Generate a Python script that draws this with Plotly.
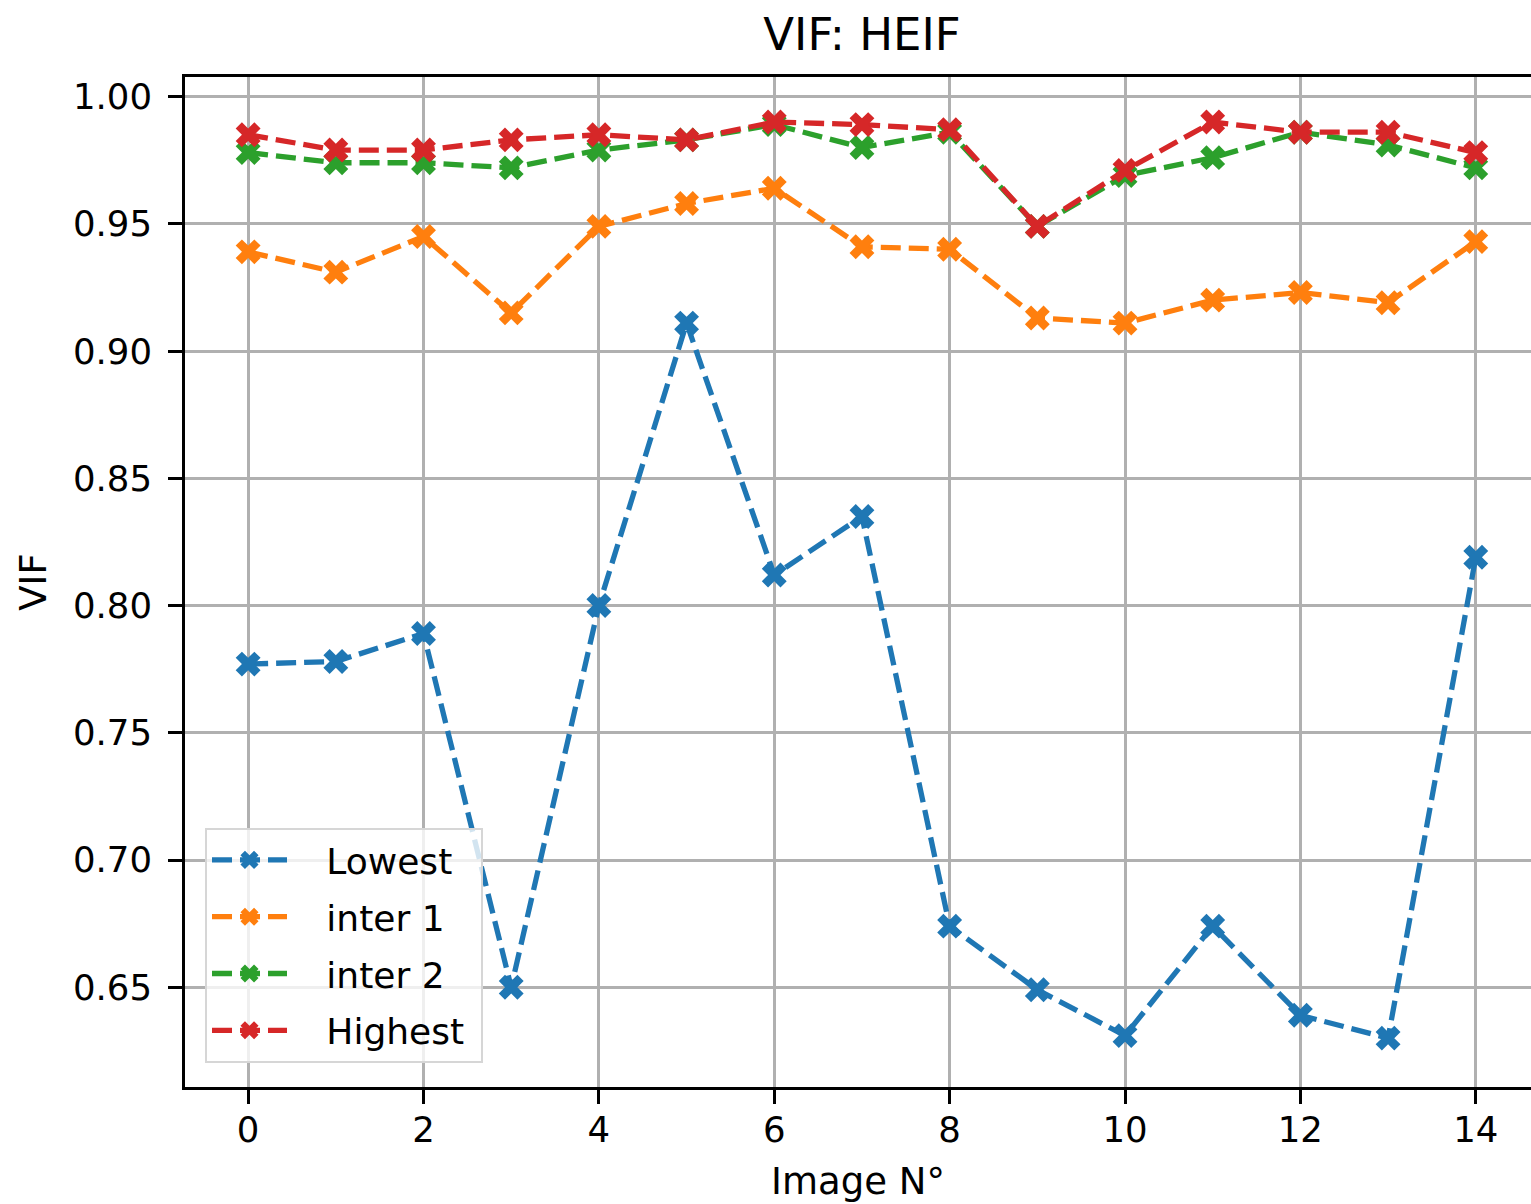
import plotly.graph_objects as go

# VIF scores per image for each HEIF quality level
image_idx = list(range(15))
lowest = [0.777, 0.778, 0.789, 0.650, 0.800, 0.911, 0.812, 0.835, 0.674, 0.649, 0.631, 0.674, 0.639, 0.630, 0.819]
inter1 = [0.939, 0.931, 0.945, 0.915, 0.949, 0.958, 0.964, 0.941, 0.940, 0.913, 0.911, 0.920, 0.923, 0.919, 0.943]
inter2 = [0.978, 0.974, 0.974, 0.972, 0.979, 0.983, 0.989, 0.980, 0.986, 0.949, 0.969, 0.976, 0.986, 0.981, 0.972]
highest = [0.985, 0.979, 0.979, 0.983, 0.985, 0.983, 0.990, 0.989, 0.987, 0.949, 0.971, 0.990, 0.986, 0.986, 0.978]

series_names = ["Lowest", "inter 1", "inter 2", "Highest"]
series_values = [lowest, inter1, inter2, highest]
series_colors = ["#1f77b4", "#ff7f0e", "#2ca02c", "#d62728"]

x_ticks = [0, 2, 4, 6, 8, 10, 12, 14]
y_ticks = [0.65, 0.70, 0.75, 0.80, 0.85, 0.90, 0.95, 1.00]
y_tick_labels = ["0.65", "0.70", "0.75", "0.80", "0.85", "0.90", "0.95", "1.00"]

FONT = "DejaVu Sans"
W, H = 1531, 1204
L, R, T, B = 185, 0, 77, 117
NBSP = "\u00a0"

fig = go.Figure()
for name, vals, col in zip(series_names, series_values, series_colors):
    fig.add_trace(go.Scatter(
        x=image_idx, y=vals, mode="lines+markers",
        name=NBSP * 3 + name + NBSP,
        legendgroup=name,
        line=dict(color=col, width=5.3, dash="20px,8px"),
        marker=dict(symbol="x", size=22, color=col, line=dict(width=0)),
    ))

axis_common = dict(
    showgrid=True, gridcolor="#b0b0b0", gridwidth=2.8,
    showline=True, linecolor="black", linewidth=2.8,
    ticks="outside", ticklen=14, tickwidth=2.8, tickcolor="black",
    tickfont=dict(family=FONT, size=35.5, color="black"),
    zeroline=False,
)

fig.update_xaxes(
    **axis_common,
    range=[-0.72, 14.63],
    tickvals=x_ticks,
    mirror=True,
    ticklabelstandoff=-5,
    title=dict(text="Image N°", font=dict(family=FONT, size=37, color="black"), standoff=20),
)
fig.update_yaxes(
    **axis_common,
    range=[0.6108, 1.0077],
    tickvals=y_ticks, ticktext=y_tick_labels,
    ticklabelstandoff=9,
    title=dict(text="VIF", font=dict(family=FONT, size=37, color="black"), standoff=16),
)

fig.update_layout(
    width=W, height=H,
    margin=dict(l=L, r=R, t=T, b=B, autoexpand=False),
    paper_bgcolor="white", plot_bgcolor="white",
    title=dict(
        text="VIF: HEIF", font=dict(family=FONT, size=45, color="black"),
        x=862 / W, xref="container", xanchor="center",
        y=1 - 34 / H, yref="container", yanchor="middle",
    ),
    legend=dict(
        x=20 / (W - L - R), y=24 / (H - T - B), xanchor="left", yanchor="bottom",
        bgcolor="rgba(255,255,255,0.8)", bordercolor="#d6d6d6", borderwidth=2,
        font=dict(family=FONT, size=36, color="black"),
        itemwidth=75, traceorder="grouped", tracegroupgap=7,
    ),
    showlegend=True,
)

fig.write_html("out.html")
